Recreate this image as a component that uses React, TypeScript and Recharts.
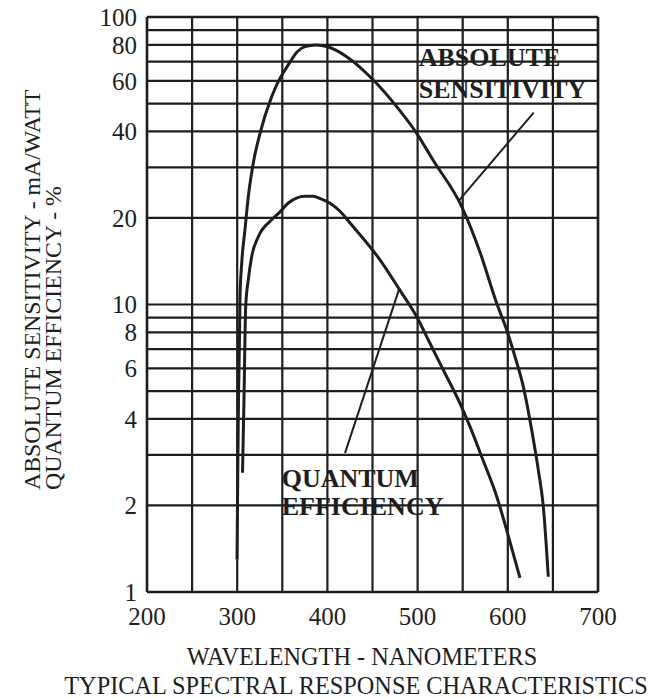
import React from "react";
import {
  LineChart,
  Line,
  XAxis,
  YAxis,
  CartesianGrid,
  ReferenceLine,
  ReferenceDot,
} from "recharts";

// absolute sensitivity curve (mA/W)
const absWavelength = [
  299.8, 300.3, 301.4, 302.5, 303.1, 305, 308.6, 312.3, 317.8, 325.3, 338.2, 347.5, 353,
  358.5, 366.3, 375.2, 387.4, 400.3, 421.4, 450.9, 476.8, 499, 517.1, 548.9, 569.2, 587.7,
  598.8, 608, 617.2, 626.5, 633.8, 639.4, 644.9,
];
const absSensitivity = [
  1.3, 1.95, 4.6, 7.5, 10.6, 13.9, 18.2, 23.7, 31, 39.4, 52.8, 61.3, 65.4,
  69.7, 75.6, 78.9, 79.9, 78.8, 72.8, 60.4, 48.8, 39.4, 31.8, 21.9, 15.2, 10.1,
  8.15, 6.58, 5.18, 3.66, 2.66, 1.98, 1.13,
];

// quantum efficiency curve (%)
const qeWavelength = [
  305.9, 307.5, 309.4, 312.3, 316.1, 323.4, 338.2, 347.5, 356.3, 366.3, 375.2, 384, 392.9,
  402.9, 414, 425.1, 458.3, 480.5, 499, 513.7, 528.5, 547, 558.1, 572.8, 587.7, 598.8, 613.5,
];
const qeEfficiency = [
  2.6, 4.65, 9.8, 12.2, 14.7, 17.2, 19.7, 21, 22.5, 23.5, 23.8, 23.8, 23.3,
  22.5, 21.1, 19.2, 14.3, 11.2, 9.07, 7.33, 5.92, 4.53, 3.76, 2.86, 2.15, 1.64, 1.12,
];

const xTicks = [200, 250, 300, 350, 400, 450, 500, 550, 600, 650, 700];
const xTickLabels = [200, 300, 400, 500, 600, 700];
const yTicks = [1, 2, 3, 4, 5, 6, 7, 8, 9, 10, 20, 30, 40, 50, 60, 70, 80, 90, 100];
const yTickLabels = [1, 2, 4, 6, 8, 10, 20, 40, 60, 80, 100];

const absData = absWavelength.map((x, i) => ({ x, y: absSensitivity[i] }));
const qeData = qeWavelength.map((x, i) => ({ x, y: qeEfficiency[i] }));

const ink = "#1e1e1e";
const serif = "'Liberation Serif', 'Times New Roman', serif";

const YTitle = () => (
  <g fill={ink} fontFamily={serif} fontSize={23.8}>
    <text x={40} y={490} transform="rotate(-90, 40, 490)">
      ABSOLUTE SENSITIVITY - mA/WATT
    </text>
    <text x={60.5} y={490} transform="rotate(-90, 60.5, 490)">
      QUANTUM EFFICIENCY - %
    </text>
  </g>
);

const XTitle = () => (
  <g fill={ink} fontFamily={serif} fontSize={24.3} textAnchor="middle">
    <text x={362} y={665}>WAVELENGTH - NANOMETERS</text>
    <text x={356} y={694}>TYPICAL SPECTRAL RESPONSE CHARACTERISTICS</text>
  </g>
);

const annotation = (lines: string[], gap: number) => (p: any) => (
  <text x={p.cx} y={p.cy} fill={ink} fontFamily={serif} fontSize={26} fontWeight="bold">
    {lines.map((l, i) => (
      <tspan key={l} x={p.cx} dy={i === 0 ? 0 : gap}>
        {l}
      </tspan>
    ))}
  </text>
);

export default function App() {
  return (
    <div style={{ position: "absolute", left: 0, top: 0, background: "#fff" }}>
      <LineChart width={664} height={698} margin={{ top: 17, right: 66, bottom: 0, left: 0 }}>
        <CartesianGrid stroke={ink} strokeWidth={2.2} />
        <XAxis
          type="number"
          dataKey="x"
          domain={[200, 700]}
          ticks={xTicks}
          interval={0}
          allowDataOverflow
          height={106}
          tickLine={false}
          axisLine={{ stroke: ink, strokeWidth: 2.5 }}
          tickMargin={9}
          tick={{ fill: ink, fontSize: 25, fontFamily: serif }}
          tickFormatter={(v: number) => (xTickLabels.includes(v) ? String(v) : "")}
          label={{ content: XTitle }}
        />
        <YAxis
          type="number"
          dataKey="y"
          scale="log"
          domain={[1, 100]}
          ticks={yTicks}
          interval={0}
          allowDataOverflow
          width={147}
          tickLine={false}
          axisLine={{ stroke: ink, strokeWidth: 2.5 }}
          tickMargin={4}
          tick={{ fill: ink, fontSize: 25, fontFamily: serif }}
          tickFormatter={(v: number) => (yTickLabels.includes(v) ? String(v) : "")}
          label={{ content: YTitle }}
        />
        <ReferenceLine x={700} stroke={ink} strokeWidth={2.5} />
        <ReferenceLine y={100} stroke={ink} strokeWidth={2.5} />
        <Line
          data={absData}
          dataKey="y"
          type="monotone"
          stroke={ink}
          strokeWidth={3}
          dot={false}
          isAnimationActive={false}
        />
        <Line
          data={qeData}
          dataKey="y"
          type="monotone"
          stroke={ink}
          strokeWidth={3}
          dot={false}
          isAnimationActive={false}
        />
        <ReferenceLine
          segment={[
            { x: 628.7, y: 46.5 },
            { x: 545.3, y: 22.9 },
          ]}
          stroke={ink}
          strokeWidth={2}
        />
        <ReferenceLine
          segment={[
            { x: 479.9, y: 11.4 },
            { x: 419.5, y: 3.04 },
          ]}
          stroke={ink}
          strokeWidth={2}
        />
        <ReferenceDot x={501.2} y={67.5} r={0} shape={annotation(["ABSOLUTE", "SENSITIVITY"], 32)} />
        <ReferenceDot x={349.3} y={2.32} r={0} shape={annotation(["QUANTUM", "EFFICIENCY"], 28.5)} />
      </LineChart>
    </div>
  );
}
